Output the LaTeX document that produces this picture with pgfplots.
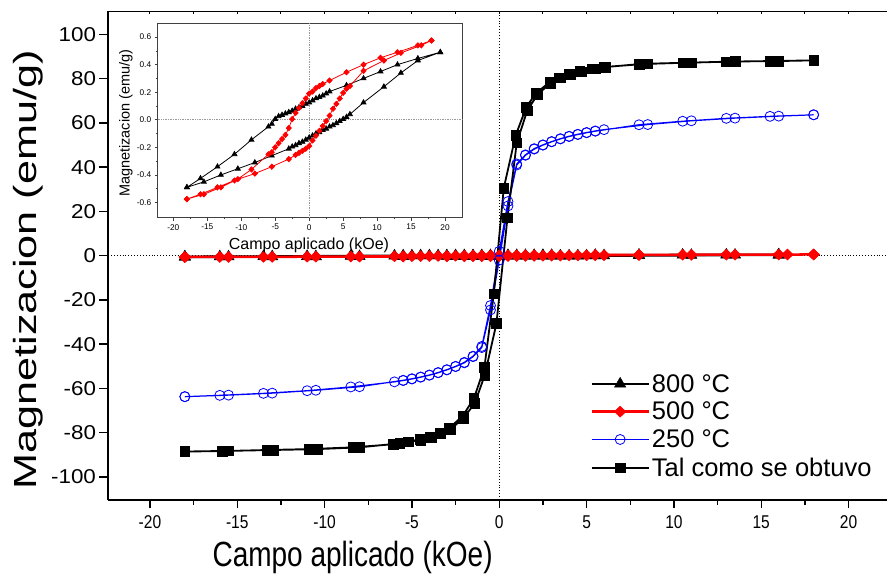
\documentclass[border=0pt]{standalone}
\usepackage{pgfplots}
\usepackage{pgfplotstable}
\pgfplotsset{compat=1.18}
\usepackage{fontspec}
\setmainfont{Liberation Sans}
\newfontfamily\condfont[FakeStretch=0.8]{Liberation Sans}
\newfontfamily\xtfont[FakeStretch=0.84]{Liberation Sans}
\newfontfamily\widefont[FakeStretch=1.12]{Liberation Sans}
\newfontfamily\tallfont[FakeStretch=1.35]{Liberation Sans}

% 800 C (emu/g)
\pgfplotstableread{
x y
19.3 0.49
16.0 0.445
13.0 0.40
10.5 0.35
8.0 0.30
5.5 0.25
3.0 0.205
2.5 0.19
2.0 0.175
1.5 0.165
1.0 0.155
0.5 0.14
0.0 0.125
-0.5 0.115
-1.0 0.10
-1.5 0.09
-2.0 0.08
-2.5 0.065
-3.0 0.055
-3.5 0.045
-4.0 0.035
-4.5 0.025
-5.0 0.005
-5.5 -0.03
-6.0 -0.05
-8.5 -0.145
-11.0 -0.25
-13.5 -0.34
-16.0 -0.425
-18.0 -0.49
-18.0 -0.49
-15.5 -0.45
-13.0 -0.40
-10.5 -0.355
-8.0 -0.31
-5.5 -0.26
-3.0 -0.21
-2.5 -0.195
-2.0 -0.185
-1.5 -0.17
-1.0 -0.16
-0.5 -0.145
0.0 -0.13
0.5 -0.115
1.0 -0.10
1.5 -0.09
2.0 -0.075
2.5 -0.065
3.0 -0.05
3.5 -0.04
4.0 -0.025
4.5 -0.01
5.0 0.005
5.5 0.02
6.0 0.04
8.0 0.125
11.0 0.24
13.5 0.34
16.0 0.43
19.3 0.49
}\tblEight

% 500 C (emu/g)
\pgfplotstableread{
x y
18 0.575
16 0.54
13 0.49
10.5 0.45
8 0.40
5.5 0.345
3.0 0.285
2.0 0.26
1.5 0.245
1.0 0.23
0.5 0.205
0.0 0.19
-0.5 0.155
-1.0 0.12
-1.5 0.085
-2.0 0.05
-2.5 0.005
-3.0 -0.06
-3.5 -0.11
-4.0 -0.14
-4.5 -0.17
-5.0 -0.20
-5.5 -0.235
-6.0 -0.25
-8.5 -0.36
-10.5 -0.43
-13 -0.49
-15.5 -0.54
-18 -0.575
-18 -0.575
-16 -0.54
-13.5 -0.49
-11 -0.44
-8 -0.39
-5.5 -0.34
-3.0 -0.285
-2.0 -0.255
-1.5 -0.24
-1.0 -0.225
-0.5 -0.21
0.0 -0.19
0.5 -0.15
1.0 -0.115
1.5 -0.08
2.0 -0.045
2.5 -0.01
3.0 0.03
3.5 0.08
4.0 0.115
4.5 0.155
5.0 0.195
5.5 0.225
6.0 0.245
8.0 0.355
11 0.43
13.5 0.485
16.5 0.54
18 0.575
}\tblFive

% 250 C (emu/g)
\pgfplotstableread{
x y
18 63.7
16 63.1
13.5 62.2
11 61.0
8.5 59.3
6 57.0
5.5 56.4
5 55.7
4.5 54.9
4 54.0
3.5 52.9
3 51.6
2.5 50.1
2 48.4
1.5 45.6
1 41.5
0.5 24.5
0 2
-0.5 -22.5
-1 -41
-1.5 -45.4
-2 -48.2
-2.5 -50
-3 -51.5
-3.5 -52.8
-4 -53.9
-4.5 -54.8
-5 -55.6
-5.5 -56.3
-8 -59.2
-10.5 -60.8
-13 -62.1
-15.5 -63.0
-18 -63.7
-18 -63.7
-16 -63.1
-13.5 -62.2
-11 -61.0
-8.5 -59.3
-6 -57.0
-5.5 -56.4
-5 -55.7
-4.5 -54.9
-4 -54.0
-3.5 -52.9
-3 -51.6
-2.5 -50.1
-2 -48.4
-1.5 -45.6
-1 -41.5
-0.5 -24.5
0 -2
0.5 22.5
1 41
1.5 45.4
2 48.2
2.5 50
3 51.5
3.5 52.8
4 53.9
4.5 54.8
5 55.6
5.5 56.3
8 59.2
10.5 60.8
13 62.1
15.5 63.0
18 63.7
}\tblTwo

% Tal como se obtuvo (emu/g)
\pgfplotstableread{
x y
18 88.3
16 88.0
13.5 87.8
11 87.3
8.5 86.8
6 85.3
5.3 84.6
4.6 83.4
4.0 82.0
3.45 80.4
2.9 78.5
2.1 73.5
1.55 67.2
0.94 54.4
0.26 30.6
-0.31 -17.1
-0.85 -50.5
-1.45 -64.5
-2.1 -72.5
-2.85 -77.8
-3.4 -80.0
-3.95 -81.8
-4.55 -83.0
-5.2 -84.0
-5.7 -84.8
-8.0 -86.6
-10.4 -87.4
-12.9 -87.8
-15.5 -88.2
-18 -88.5
-18 -88.5
-15.85 -88.3
-13.3 -87.8
-10.9 -87.4
-8.35 -86.6
-6.06 -85.2
-4.5 -83.3
-3.9 -82.1
-3.35 -80.3
-2.8 -78.5
-2.06 -73.5
-1.4 -66.7
-0.83 -54.0
-0.16 -30.6
0.47 17.1
1.0 51.0
1.6 65.5
2.2 73.0
2.95 78.0
3.5 80.4
4.1 81.9
4.7 83.2
5.5 84.5
6.1 85.3
8.0 86.6
10.5 87.2
13.0 87.7
15.5 88.0
18 88.3
}\tblTal

\begin{document}
\begin{tikzpicture}
\useasboundingbox (0pt,0pt) rectangle (887pt,577pt);
\begin{axis}[
  at={(108pt,77pt)}, anchor=south west,
  scale only axis, width=779pt, height=488.5pt,
  xmin=-22.4, xmax=22.2, ymin=-110.4, ymax=110.4,
  axis x line*=bottom, axis y line*=left,
  axis line style={line width=2pt, -},
  xtick={-20,-15,...,20}, ytick={-100,-80,...,100},
  minor x tick num=1,
  tick align=outside,
  major tick length=8.5pt, minor tick length=5pt,
  every tick/.style={black, line width=1.5pt},
  /pgf/number format/assume math mode=true,
  xticklabel style={font=\xtfont\fontsize{18.5}{18.5}\selectfont, yshift=-4pt},
  yticklabel style={font=\widefont\fontsize{20}{20}\selectfont},
  xlabel={Campo aplicado (kOe)},
  ylabel={Magnetizacion (emu/g)},
  xlabel style={font=\condfont\fontsize{35}{35}\selectfont, at={(axis description cs:0.314,-0.137)}, anchor=base},
  ylabel style={font=\tallfont\fontsize{32}{32}\selectfont, at={(axis description cs:-0.1025,0.471)}, anchor=center},
  legend image code/.code={\draw[mark repeat=2,mark phase=2,#1] plot coordinates {(0pt,0pt) (28.5pt,0pt) (57pt,0pt)};},
  legend style={at={(axis description cs:0.619,0.262)}, anchor=north west, draw=none, fill=none,
    font=\fontsize{25.5}{25.5}\selectfont, row sep=4.5pt, inner sep=0pt,
    /tikz/every even column/.append style={column sep=6pt}},
  legend cell align=left,
]
\draw[line width=2pt] (axis cs:-22.4,110.4) -- (axis cs:22.2,110.4);
\pgfplotsinvokeforeach{-20,-17.5,...,20}{\draw[line width=1pt] (axis cs:#1,110.4) -- ++(0pt,-2.5pt);}
\draw[dotted, line width=0.9pt] (axis cs:-22.4,0) -- (axis cs:22.2,0);
\draw[dotted, line width=0.9pt] (axis cs:0,-110.4) -- (axis cs:0,110.4);
\addplot[black, line width=2.5pt, mark=triangle*, mark size=6.5pt, mark options={line width=0.5pt}, restrict x to domain=-18.5:18.5] table[x=x,y=y] {\tblEight};
\addlegendentry{800 °C}
\addplot[red, line width=2.5pt, mark=diamond*, mark size=5.5pt, mark options={xscale=1.4, line width=0.5pt}] table[x=x,y=y] {\tblFive};
\addlegendentry{500 °C}
\addplot[blue, line width=1.2pt, mark=o, mark size=5pt, mark options={fill=white, line width=0.8pt}] table[x=x,y=y] {\tblTwo};
\addlegendentry{250 °C}
\addplot[black, line width=1.8pt, mark=square*, mark size=4.8pt, mark options={line width=0.5pt}] table[x=x,y=y] {\tblTal};
\addlegendentry{Tal como se obtuvo}
\end{axis}

\begin{axis}[
  at={(157.7pt,359.3pt)}, anchor=south west,
  scale only axis, width=305pt, height=194.4pt,
  xmin=-22.3, xmax=22.6, ymin=-0.71, ymax=0.70,
  axis background/.style={fill=white},
  axis line style={line width=0.8pt, black!75},
  xtick={-20,-15,...,20}, ytick={-0.6,-0.4,-0.2,0,0.2,0.4,0.6},
  minor x tick num=1, minor y tick num=1,
  tick pos=left, tick align=outside,
  major tick length=3pt, minor tick length=1.8pt,
  every tick/.style={black!75, line width=0.6pt},
  /pgf/number format/assume math mode=true,
  ticklabel style={font=\fontsize{8.3}{8.3}\selectfont},
  yticklabel style={/pgf/number format/fixed, /pgf/number format/fixed zerofill, /pgf/number format/precision=1},
  xlabel={Campo aplicado (kOe)},
  ylabel={Magnetizacion (emu/g)},
  xlabel style={font=\fontsize{16}{16}\selectfont, at={(axis description cs:0.496,-0.165)}, anchor=base},
  ylabel style={font=\fontsize{14.5}{14.5}\selectfont, at={(axis description cs:-0.104,0.486)}, anchor=center},
]
\draw[densely dotted, black!40, line width=0.7pt] (axis cs:-22.3,0) -- (axis cs:22.6,0);
\draw[densely dotted, black!40, line width=0.7pt] (axis cs:0,-0.71) -- (axis cs:0,0.70);
\addplot[black, line width=0.8pt, mark=triangle*, mark size=2.8pt] table[x=x,y=y] {\tblEight};
\addplot[red, line width=0.8pt, mark=diamond*, mark size=2.6pt, mark options={xscale=1.3}] table[x=x,y=y] {\tblFive};
\end{axis}
\end{tikzpicture}
\end{document}
